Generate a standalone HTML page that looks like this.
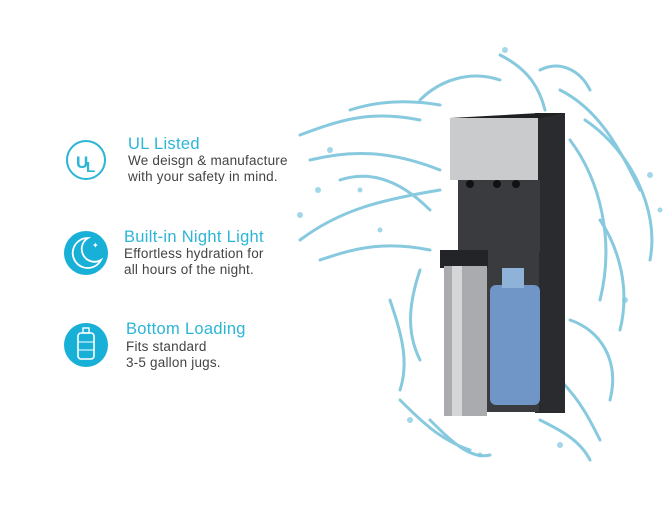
<!DOCTYPE html>
<html><head><style>
body{margin:0;width:672px;height:510px;background:#fff;position:relative;overflow:hidden;font-family:"Liberation Sans",sans-serif}
.t{position:absolute;color:#2bb5d6;font-size:16.5px;letter-spacing:.3px}
.d{position:absolute;color:#444;font-size:13.5px;line-height:16px;letter-spacing:.2px}
</style></head><body>
<svg width="672" height="510" style="position:absolute;left:0;top:0">
<circle cx="86" cy="160" r="19" fill="none" stroke="#2bb5d6" stroke-width="2"/>
<text x="76" y="168" font-family="Liberation Sans" font-size="17" font-weight="bold" fill="#2bb5d6">U</text>
<text x="86" y="172" font-family="Liberation Sans" font-size="15" font-weight="bold" fill="#2bb5d6">L</text>
<circle cx="86" cy="253" r="22" fill="#19b0d8"/>
<path d="M88 238 A15 15 0 1 0 101 260 A12 12 0 1 1 88 238Z" fill="none" stroke="#fff" stroke-width="1.8"/>
<text x="92" y="248" font-size="8" fill="#fff">✦</text>
<circle cx="86" cy="345" r="22" fill="#19b0d8"/>
<rect x="78" y="333" width="16" height="26" rx="3" fill="none" stroke="#fff" stroke-width="1.6"/>
<rect x="83" y="328" width="6" height="5" fill="none" stroke="#fff" stroke-width="1.4"/>
<line x1="78" y1="342" x2="94" y2="342" stroke="#fff"/><line x1="78" y1="350" x2="94" y2="350" stroke="#fff"/>
<g fill="none" stroke="#5fb7d4" stroke-width="3" stroke-linecap="round" opacity=".75">
<path d="M300 135 C340 120 370 110 420 120"/>
<path d="M310 160 C350 150 390 150 440 170"/>
<path d="M300 240 C340 210 380 200 440 190"/>
<path d="M320 260 C350 250 380 240 430 250"/>
<path d="M420 100 C440 80 470 70 500 80"/>
<path d="M500 55 C530 70 540 90 545 110"/>
<path d="M560 90 C600 110 620 150 640 190"/>
<path d="M570 140 C600 180 615 240 600 300"/>
<path d="M585 120 C630 150 660 210 650 260"/>
<path d="M570 320 C600 330 620 360 610 400"/>
<path d="M400 400 C420 420 440 440 470 450"/>
<path d="M540 420 C560 430 580 440 590 460"/>
<path d="M390 300 C400 330 410 360 400 390"/>
<path d="M340 180 C370 170 400 180 430 210"/>
<path d="M350 110 C380 100 410 100 440 105"/>
<path d="M540 70 C560 60 580 70 590 90"/>
<path d="M600 220 C620 250 630 290 620 330"/>
<path d="M420 270 C410 300 405 330 420 360"/>
<path d="M560 380 C580 400 590 420 600 440"/>
<path d="M430 420 C450 440 470 460 490 455"/>
</g>
<g fill="#7cc6e0" opacity=".7">
<circle cx="330" cy="150" r="3"/><circle cx="318" cy="190" r="3"/><circle cx="360" cy="190" r="2.5"/>
<circle cx="650" cy="175" r="3"/><circle cx="625" cy="300" r="3"/><circle cx="410" cy="420" r="3"/>
<circle cx="480" cy="455" r="2.5"/><circle cx="560" cy="445" r="3"/><circle cx="505" cy="50" r="3"/>
<circle cx="300" cy="215" r="3"/><circle cx="380" cy="230" r="2.5"/><circle cx="660" cy="210" r="2.5"/>
</g>
<rect x="535" y="113" width="30" height="300" fill="#2a2b2e"/>
<polygon points="450,118 540,113 565,113 540,118" fill="#1f2022"/>
<rect x="450" y="118" width="88" height="62" fill="#c9cbcd"/>
<rect x="458" y="180" width="82" height="72" fill="#3a3b3f"/>
<circle cx="470" cy="184" r="4" fill="#111"/><circle cx="497" cy="184" r="4" fill="#111"/><circle cx="516" cy="184" r="4" fill="#111"/>
<rect x="487" y="252" width="52" height="160" fill="#3a3b3f"/>
<rect x="490" y="285" width="50" height="120" rx="6" fill="#6f96c6"/>
<rect x="502" y="268" width="22" height="20" fill="#8eb2d8"/>
<rect x="440" y="250" width="48" height="18" fill="#232427"/>
<rect x="444" y="266" width="43" height="150" fill="#a9abae"/>
<rect x="452" y="266" width="10" height="150" fill="#d4d6d8"/>
</svg>
<div class="t" style="left:128px;top:135px">UL Listed</div>
<div class="d" style="left:128px;top:153px">We deisgn &amp; manufacture<br>with your safety in mind.</div>
<div class="t" style="left:124px;top:228px">Built-in Night Light</div>
<div class="d" style="left:124px;top:246px">Effortless hydration for<br>all hours of the night.</div>
<div class="t" style="left:126px;top:320px">Bottom Loading</div>
<div class="d" style="left:126px;top:339px">Fits standard<br>3-5 gallon jugs.</div>
</body></html>
